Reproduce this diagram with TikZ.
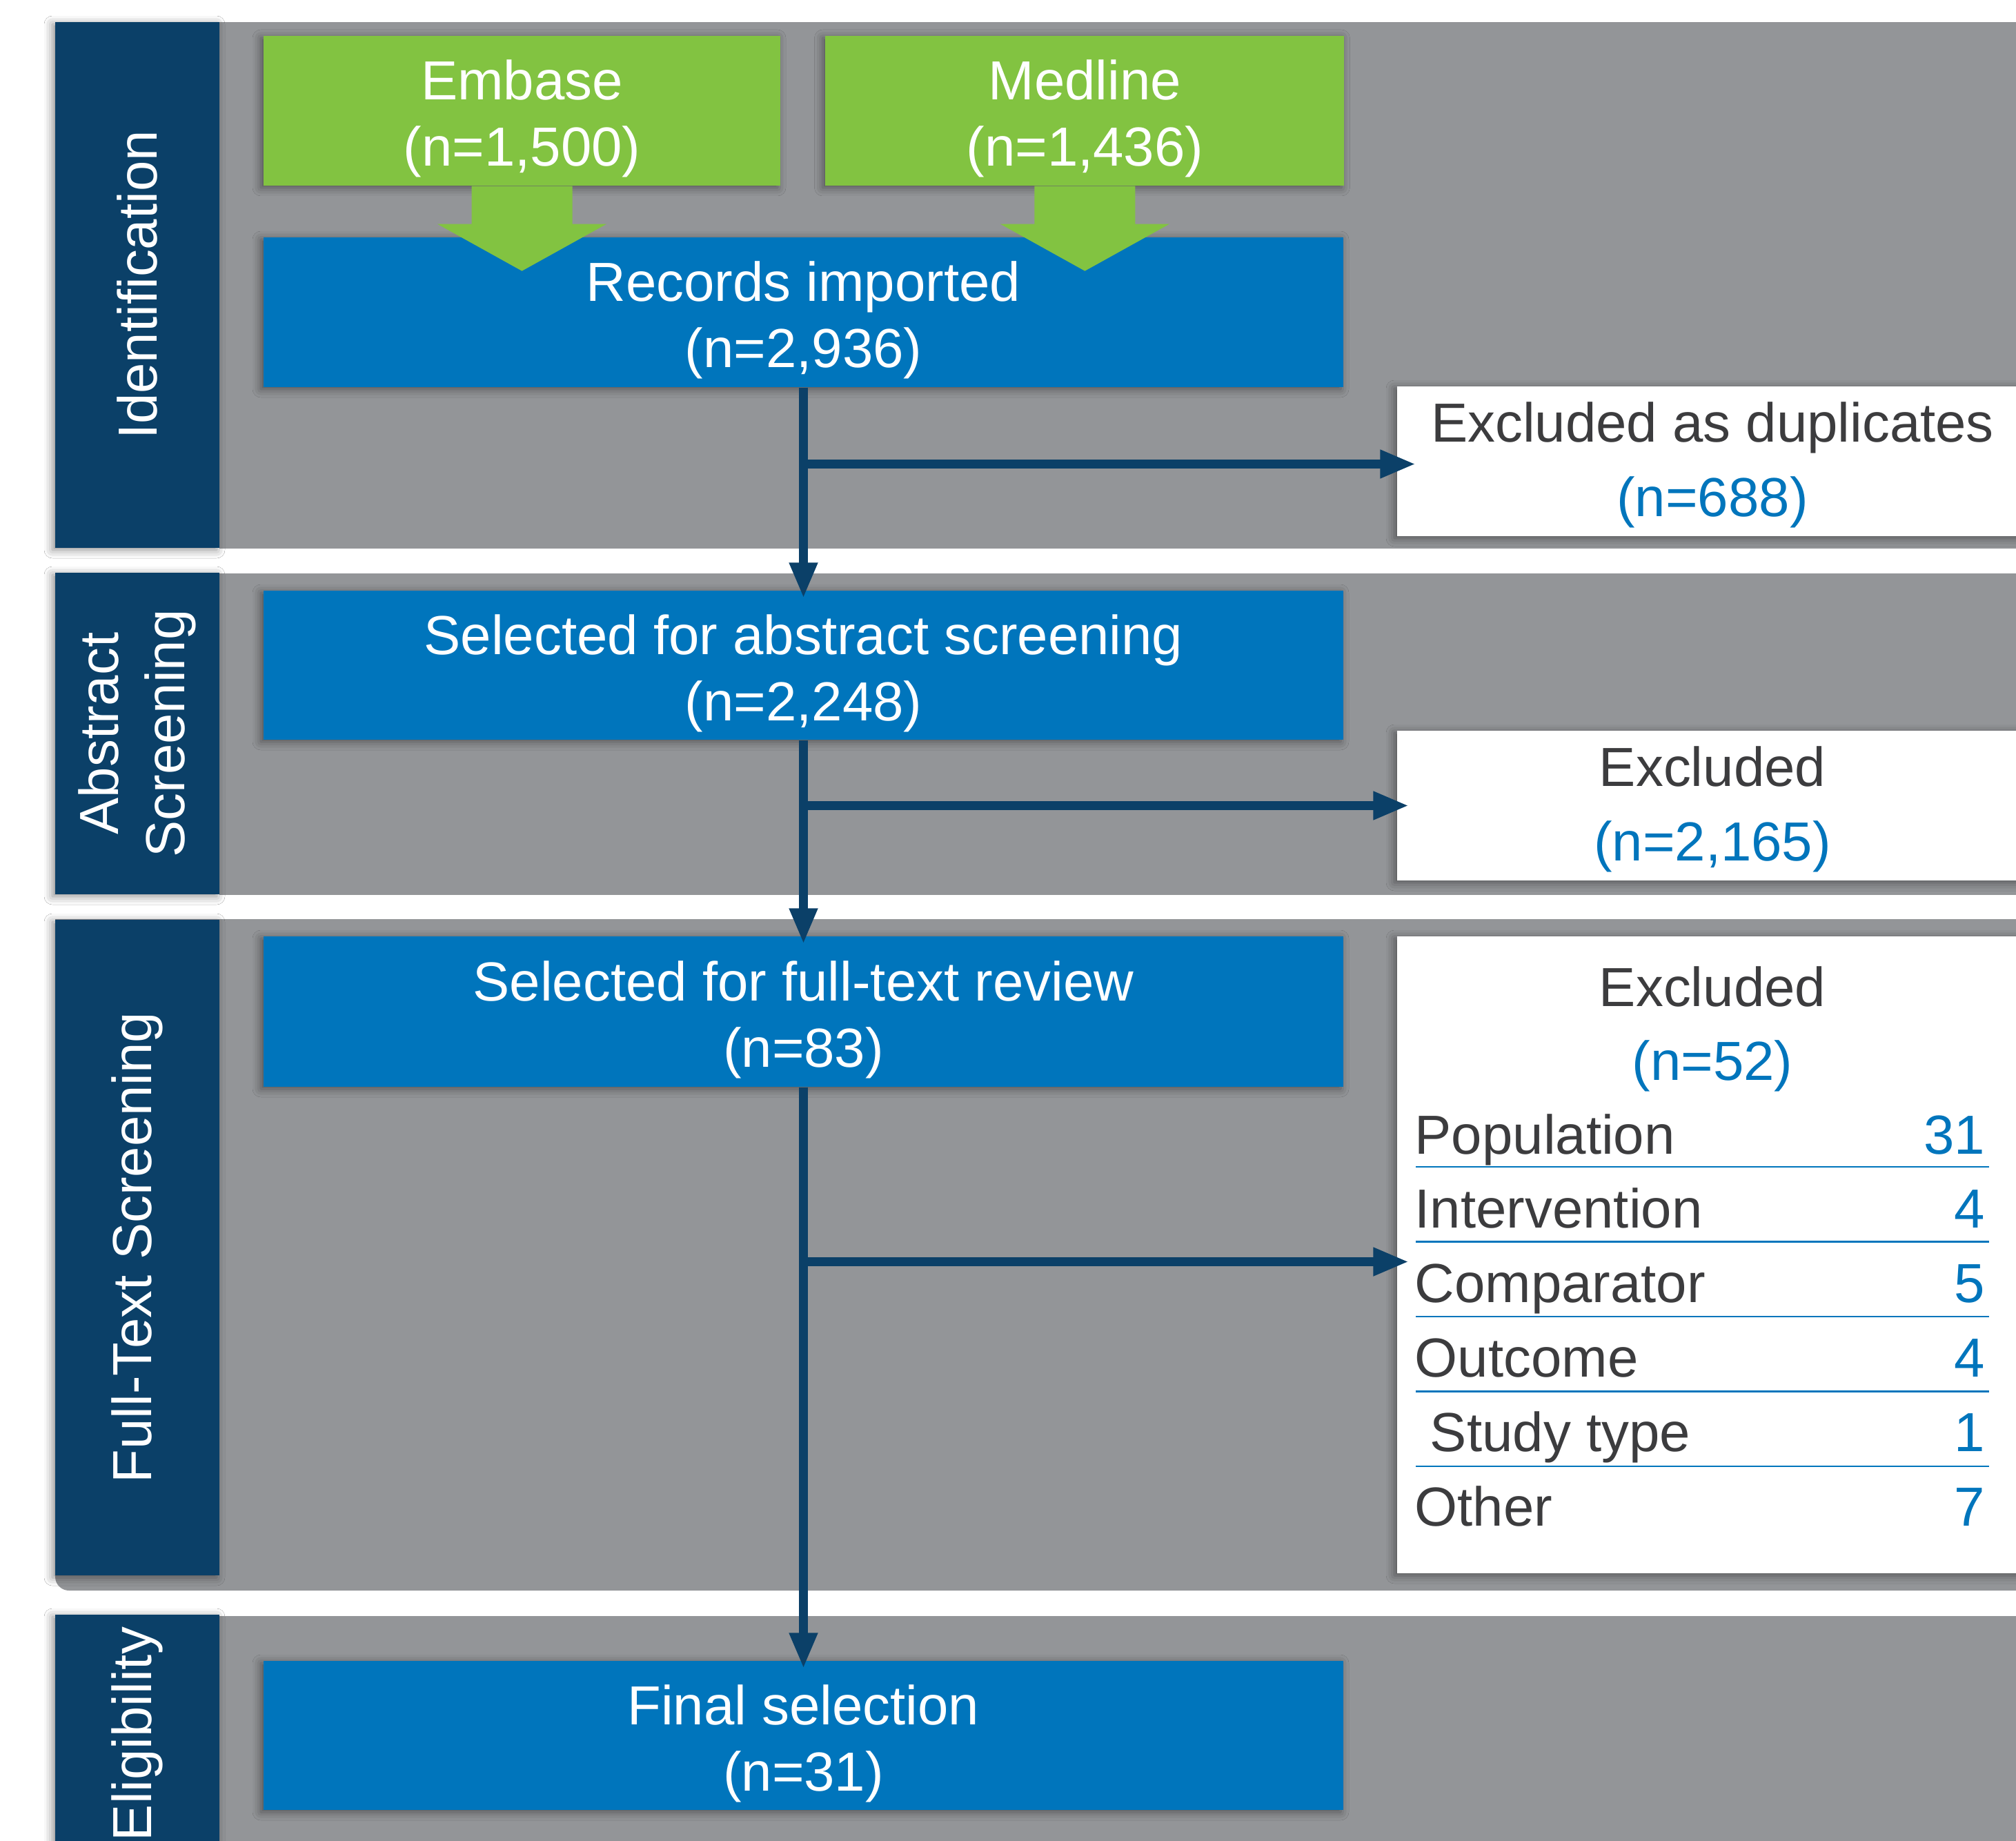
\documentclass[tikz,border=0pt]{standalone}
\usepackage{fontspec}
\setmainfont{Liberation Sans}
\usepackage{xcolor}
\usetikzlibrary{arrows.meta,positioning,shadows.blur}

\definecolor{stagenavy}{RGB}{11,64,104}
\definecolor{bandgray}{RGB}{147,149,152}
\definecolor{flowblue}{RGB}{0,117,188}
\definecolor{dbgreen}{RGB}{130,195,65}
\definecolor{exclgray}{RGB}{60,60,62}

\begin{document}
\begin{tikzpicture}[
  every node/.style={font=\fontsize{22.7}{27.3}\selectfont, inner sep=0pt, align=center},
  boxshadow/.style={blur shadow={shadow xshift=-0.04cm, shadow yshift=-0.03cm, shadow blur radius=0.12cm, shadow opacity=45}},
  twolines/.style={text height=1.85cm, text depth=0.25cm},
  stage/.style={fill=stagenavy, text=white, rotate=90, minimum height=2.38cm, boxshadow},
  stepbox/.style={fill=flowblue, text=white, minimum width=15.65cm, minimum height=2.17cm, twolines, boxshadow},
  srcbox/.style={fill=dbgreen, text=white, minimum height=2.17cm, twolines, boxshadow},
  exclbox/.style={fill=white, text=exclgray, minimum width=9.14cm, font=\fontsize{22.7}{30.7}\selectfont, boxshadow},
  excltwo/.style={exclbox, minimum height=2.17cm, twolines},
  whylabel/.style={anchor=base west, text=exclgray},
  whynum/.style={anchor=base east, text=flowblue},
  flow/.style={draw=stagenavy, line width=0.135cm, -{Triangle[length=0.52cm,width=0.38cm]}},
]
\useasboundingbox (0,0) rectangle (29.22,-26.68);
\clip (0,0) rectangle (29.22,-26.68);
\fill[white] (0,0) rectangle (29.22,-26.68);

% grey bands
\fill[bandgray] (3.18,-0.32) rectangle (29.5,-7.95);
\fill[bandgray] (3.18,-8.31) rectangle (29.5,-12.97);
\fill[bandgray] (0.80,-13.32) -- (0.80,-22.85) arc[start angle=180,end angle=270,radius=0.2] -- (29.5,-23.05) -- (29.5,-13.32) -- cycle;
\fill[bandgray] (3.18,-23.42) rectangle (29.5,-27);

% stages
\node[stage, minimum width=7.62cm] (ident) at (1.99,-4.13) {Identification};
\node[stage, minimum width=4.66cm] (abscr) at (1.99,-10.63) {Abstract\\Screening};
\node[stage, minimum width=9.50cm] (ftscr) at (1.99,-18.08) {Full-Text Screening};
\node[stage, minimum width=3.46cm] (elig) at (1.99,-25.13) {Eligibility};

\node[srcbox, minimum width=7.49cm] (embase) at (7.565,-1.605) {Embase\\(n=1,500)};
\node[srcbox, minimum width=7.52cm, right=0.64cm of embase] (medline) {Medline\\(n=1,436)};

\node[stepbox] (records) at (11.645,-4.525) {Records imported\\(n=2,936)};
\node[stepbox, minimum height=2.16cm] (abstract) at (11.645,-9.64) {Selected for abstract screening\\(n=2,248)};
\node[stepbox, minimum height=2.18cm] (fulltext) at (11.645,-14.66) {Selected for full-text review\\(n=83)};
\node[stepbox, minimum height=2.16cm] (final) at (11.645,-25.15) {Final selection\\(n=31)};

\foreach \src in {embase,medline}
  \fill[dbgreen] ([xshift=-0.73cm]\src.south) -- ++(0,-0.55) -- ++(-0.495,0) -- ([yshift=-1.23cm]\src.south)
    -- ++(1.225,0.68) -- ++(-0.495,0) -- ++(0,0.55) -- cycle;

\node[excltwo] (dupl) at (24.82,-6.685) {Excluded as duplicates\\\textcolor{flowblue}{(n=688)}};
\node[excltwo] (absexcl) at (24.82,-11.675) {Excluded\\\textcolor{flowblue}{(n=2,165)}};
\node[exclbox, minimum height=9.23cm] (ftexcl) at (24.82,-18.185) {};
\node[anchor=base, text=exclgray] (ftexclword) at (24.82,-14.58) {Excluded};
\node[anchor=base, text=flowblue] (ftexcln) at (24.82,-15.65) {(n=52)};

\foreach \why/\num [count=\i] in {Population/31,Intervention/4,Comparator/5,Outcome/4,{\ Study type}/1,Other/7}{
  \node[whylabel] (why\i) at (20.50,{-16.72-1.079*(\i-1)}) {\why};
  \node[whynum] (num\i) at (28.78,{-16.72-1.079*(\i-1)}) {\num};
}
\foreach \i in {1,...,5}
  \draw[flowblue, line width=0.025cm] (20.52,{-16.91-1.085*(\i-1)}) -- (28.83,{-16.91-1.085*(\i-1)});

% flow
\draw[flow, shorten >=-0.12cm] (records) -- (abstract);
\draw[flow, shorten >=-0.12cm] (abstract) -- (fulltext);
\draw[flow, shorten >=-0.12cm] (fulltext) -- (final);
\coordinate (dupin) at ([yshift=-0.04cm]dupl.west);
\coordinate (ftin) at ([yshift=-0.1cm]ftexcl.west);
\draw[flow, shorten >=-0.28cm] (dupin -| records.south) -- (dupin);
\draw[flow, shorten >=-0.18cm] (absexcl.west -| abstract.south) -- (absexcl.west);
\draw[flow, shorten >=-0.18cm] (ftin -| fulltext.south) -- (ftin);
\end{tikzpicture}
\end{document}
